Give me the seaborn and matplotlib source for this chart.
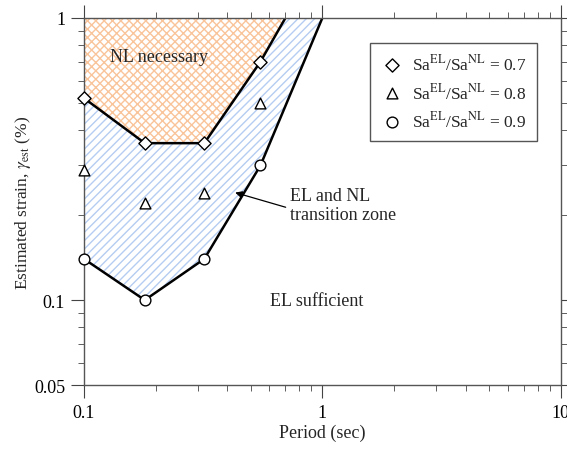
import matplotlib
matplotlib.use("Agg")
import matplotlib.pyplot as plt
import seaborn as sns
import pandas as pd

# Data
period = [0.1, 0.18, 0.32, 0.55]
strain_07 = [0.52, 0.36, 0.36, 0.70]
strain_08 = [0.29, 0.22, 0.24, 0.50]
strain_09 = [0.14, 0.10, 0.14, 0.30]
upper_end = (0.70, 1.0)   # NL boundary reaches top
lower_end = (1.0, 1.0)    # EL boundary reaches top
ratios = ["0.7", "0.8", "0.9"]
xticks = [0.1, 1, 10]
xticklabels = ["0.1", "1", "10"]
yticks = [0.05, 0.1, 1]
yticklabels = ["0.05", "0.1", "1"]

sns.set_style("ticks")
plt.rcParams["font.family"] = ["Liberation Serif", "DejaVu Serif"]
plt.rcParams["mathtext.fontset"] = "stix"
plt.rcParams["hatch.linewidth"] = 1.0

fig = plt.figure(figsize=(5.67, 4.52), dpi=100)
ax = fig.add_axes([0.148, 0.146, 0.841, 0.812])

up_x = period + [upper_end[0]]
up_y = strain_07 + [upper_end[1]]
lo_x = period + [lower_end[0]]
lo_y = strain_09 + [lower_end[1]]

# Orange crosshatch: NL necessary region
ox = [period[0]] + up_x
oy = [1.0] + up_y
ax.fill(ox, oy, facecolor="none", edgecolor="#f9c49a", hatch="xxxx", linewidth=0)
# Blue hatch: transition zone
bx = up_x + lo_x[::-1]
by = up_y + lo_y[::-1]
ax.fill(bx, by, facecolor="none", edgecolor="#b5cdf2", hatch="////", linewidth=0)

df_up = pd.DataFrame({"x": up_x, "y": up_y})
df_lo = pd.DataFrame({"x": lo_x, "y": lo_y})
sns.lineplot(data=df_up, x="x", y="y", color="black", lw=1.8, ax=ax, sort=False)
sns.lineplot(data=df_lo, x="x", y="y", color="black", lw=1.8, ax=ax, sort=False)

labels = [r"Sa$^{\mathrm{EL}}$/Sa$^{\mathrm{NL}}$ = " + r for r in ratios]
for ys, m, s, lab in zip([strain_07, strain_08, strain_09], ["D", "^", "o"], [45, 60, 60], labels):
    ax.scatter(period, ys, marker=m, s=s, facecolor="white", edgecolor="black",
               linewidth=1.0, zorder=5, label=lab, clip_on=False)

ax.set_xscale("log")
ax.set_yscale("log")
ax.set_xlim(0.1, 10)
ax.set_ylim(0.05, 1)
ax.set_xticks(xticks)
ax.set_xticklabels(xticklabels)
ax.set_yticks(yticks)
ax.set_yticklabels(yticklabels)
ax.tick_params(which="both", top=True, right=True, direction="out", colors="#444444",
               labelcolor="black", labelsize=13)
ax.tick_params(which="major", length=9.5, pad=4)
ax.tick_params(which="minor", length=4.5)
for sp in ax.spines.values():
    sp.set_visible(True)
    sp.set_color("#555555")
    sp.set_linewidth(1.0)

ax.set_xlabel("Period (sec)", fontsize=13, labelpad=2)
ax.set_ylabel(r"Estimated strain, $\gamma_{\mathrm{est}}$ (%)", fontsize=12.5, labelpad=1)

ax.text(0.206, 0.73, "NL necessary", fontsize=13, ha="center", va="center")
ax.text(0.734, 0.218, "EL and NL\ntransition zone", fontsize=13, ha="left", va="center",
        linespacing=1.15)
ax.annotate("", xy=(0.42, 0.242), xytext=(0.72, 0.212),
            arrowprops=dict(arrowstyle="-|>", color="black", lw=0.9, mutation_scale=10))
ax.text(0.944, 0.10, "EL sufficient", fontsize=13, ha="center", va="center")

leg = ax.legend(loc="upper right", bbox_to_anchor=(0.95, 0.932), fontsize=12.5, frameon=True,
                fancybox=False, edgecolor="#555555", handletextpad=0.5, labelspacing=0.5,
                borderpad=0.6, handlelength=1.3, borderaxespad=0)
leg.get_frame().set_linewidth(1.0)
leg.get_frame().set_alpha(1)
ax.set_facecolor("white")

fig.savefig("out.png", dpi=100)
